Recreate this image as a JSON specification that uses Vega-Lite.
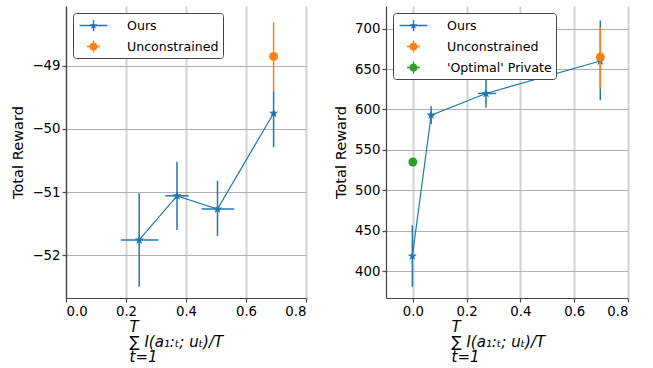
{
  "$schema": "https://vega.github.io/schema/vega-lite/v6.json",
  "padding": {"left": 10, "top": 6, "right": 5, "bottom": 0},
  "background": "white",
  "config": {
    "view": {"stroke": null},
    "font": "DejaVu Sans",
    "axis": {"labelFont": "DejaVu Sans", "titleFont": "DejaVu Sans", "labelFontSize": 13.3, "titleFontSize": 14.6, "titleFontWeight": "normal", "labelColor": "#000", "titleColor": "#000", "domainColor": "#444", "domainWidth": 1.2, "tickColor": "#444", "tickSize": 4, "tickWidth": 1.2, "labelPadding": 2, "labelOverlap": false},
    "axisX": {"gridColor": "#d3d3d3", "gridWidth": 2, "titleLineHeight": 15, "titlePadding": 2, "titleFontStyle": "italic", "titleFontSize": 15, "titleAlign": "left", "titleX": 63},
    "axisY": {"gridColor": "#b0b0b0", "gridWidth": 1, "titlePadding": 6},
    "legend": {"orient": "top-left", "offset": 7, "padding": 4, "strokeColor": "#444", "fillColor": "white", "cornerRadius": 3, "labelFont": "DejaVu Sans", "labelFontSize": 12.6, "labelColor": "#000", "symbolSize": 225, "rowPadding": 5, "labelOffset": 25, "symbolOffset": 8}
  },
  "datasets": {
    "leftdata": [
      {"series": "Ours", "x": 0.244, "y": -51.76, "xlo": 0.183, "xhi": 0.308, "ylo": -52.5, "yhi": -51.02},
      {"series": "Ours", "x": 0.37, "y": -51.06, "xlo": 0.331, "xhi": 0.409, "ylo": -51.6, "yhi": -50.52},
      {"series": "Ours", "x": 0.505, "y": -51.27, "xlo": 0.452, "xhi": 0.561, "ylo": -51.7, "yhi": -50.82},
      {"series": "Ours", "x": 0.692, "y": -49.75, "xlo": 0.689, "xhi": 0.695, "ylo": -50.29, "yhi": -49.4},
      {"series": "Unconstrained", "x": 0.692, "y": -48.85, "xlo": 0.689, "xhi": 0.695, "ylo": -49.4, "yhi": -48.31}
    ],
    "rightdata": [
      {"series": "Ours", "x": -0.002, "y": 418.5, "xlo": -0.004, "xhi": 0.0, "ylo": 380.6, "yhi": 456.8},
      {"series": "Ours", "x": 0.068, "y": 593, "xlo": 0.058, "xhi": 0.078, "ylo": 582, "yhi": 604},
      {"series": "Ours", "x": 0.272, "y": 619.8, "xlo": 0.242, "xhi": 0.31, "ylo": 602, "yhi": 640},
      {"series": "Ours", "x": 0.697, "y": 660, "xlo": 0.694, "xhi": 0.7, "ylo": 611.5, "yhi": 710},
      {"series": "Unconstrained", "x": 0.697, "y": 665, "xlo": 0.694, "xhi": 0.7, "ylo": 626, "yhi": 702},
      {"series": "'Optimal' Private", "x": 0.0, "y": 535, "xlo": 0.0, "xhi": 0.0, "ylo": 535, "yhi": 535}
    ]
  },
  "resolve": {"scale": {"x": "independent", "y": "independent", "color": "independent", "shape": "independent"}, "legend": {"color": "independent", "shape": "independent"}},
  "spacing": 26,
  "hconcat": [
    {
      "width": 240, "height": 292,
      "data": {"name": "leftdata"},
      "layer": [
        {
          "transform": [{"filter": "datum.series === 'Ours'"}],
          "mark": {"type": "rule", "color": "#1f77b4", "strokeWidth": 1.5},
          "encoding": {
            "x": {"field": "x", "type": "quantitative", "title": ["\u2002T", "\u2211 I(a\u2081:\u209c; u\u209c)/T", "t=1"], "scale": {"domain": [0, 0.8], "nice": false, "zero": false}, "axis": {"values": [0, 0.1, 0.2, 0.3, 0.4, 0.5, 0.6, 0.7, 0.8], "format": ".1f"}},
            "y": {"field": "ylo", "type": "quantitative", "title": "Total Reward", "scale": {"domain": [-52.68, -48.05], "nice": false, "zero": false}, "axis": {"values": [-52, -51, -50, -49], "format": "d"}},
            "y2": {"field": "yhi"}
          }
        },
        {
          "transform": [{"filter": "datum.series === 'Ours'"}],
          "mark": {"type": "rule", "color": "#1f77b4", "strokeWidth": 1.5},
          "encoding": {
            "x": {"field": "xlo", "type": "quantitative"},
            "x2": {"field": "xhi"},
            "y": {"field": "y", "type": "quantitative"}
          }
        },
        {
          "transform": [{"filter": "datum.series === 'Ours'"}],
          "mark": {"type": "line", "color": "#1f77b4", "strokeWidth": 1.2},
          "encoding": {
            "x": {"field": "x", "type": "quantitative"},
            "y": {"field": "y", "type": "quantitative"}
          }
        },
        {
          "transform": [{"filter": "datum.series === 'Ours'"}],
          "mark": {"type": "point", "filled": true, "color": "#1f77b4", "shape": "M0,-1L0.235,-0.324L0.951,-0.309L0.38,0.124L0.588,0.809L0,0.4L-0.588,0.809L-0.38,0.124L-0.951,-0.309L-0.235,-0.324Z", "size": 95, "opacity": 1},
          "encoding": {
            "x": {"field": "x", "type": "quantitative"},
            "y": {"field": "y", "type": "quantitative"}
          }
        },
        {
          "transform": [{"filter": "datum.series === 'Unconstrained'"}],
          "mark": {"type": "rule", "color": "#ff7f0e", "strokeWidth": 1.5},
          "encoding": {
            "x": {"field": "x", "type": "quantitative"},
            "y": {"field": "ylo", "type": "quantitative"},
            "y2": {"field": "yhi"}
          }
        },
        {
          "transform": [{"filter": "datum.series !== 'Ours'"}],
          "mark": {"type": "point", "filled": true, "shape": "circle", "size": 80, "opacity": 1},
          "encoding": {
            "x": {"field": "x", "type": "quantitative"},
            "y": {"field": "y", "type": "quantitative"},
            "color": {"condition": {"test": "datum.series === 'Unconstrained'", "value": "#ff7f0e"}, "value": "#2ca02c"}
          }
        },
        {
          "transform": [{"filter": "datum.series === 'none'"}],
          "mark": {"type": "point", "filled": true, "opacity": 1},
          "encoding": {
            "x": {"field": "x", "type": "quantitative"},
            "y": {"field": "y", "type": "quantitative"},
            "color": {"field": "series", "type": "nominal", "scale": {"domain": ["Ours", "Unconstrained"], "range": ["#1f77b4", "#ff7f0e"]}, "legend": {"title": null}},
            "shape": {"field": "series", "type": "nominal", "scale": {"domain": ["Ours", "Unconstrained"], "range": ["M0,-0.55L0.129,-0.178L0.523,-0.17L0.209,0.068L0.323,0.445L0,0.22L-0.323,0.445L-0.209,0.068L-0.523,-0.17L-0.129,-0.178Z M-1.85,-0.09L1.85,-0.09L1.85,0.09L-1.85,0.09Z M-0.09,-0.75L0.09,-0.75L0.09,0.75L-0.09,0.75Z", "M0.55,0A0.55,0.55 0 1,1 -0.55,0A0.55,0.55 0 1,1 0.55,0Z M-0.87,-0.09L0.87,-0.09L0.87,0.09L-0.87,0.09Z M-0.09,-0.8L0.09,-0.8L0.09,0.8L-0.09,0.8Z"]}, "legend": {"title": null}}
          }
        }
      ]
    },
    {
      "width": 242, "height": 292,
      "data": {"name": "rightdata"},
      "layer": [
        {
          "transform": [{"filter": "datum.series === 'Ours'"}],
          "mark": {"type": "rule", "color": "#1f77b4", "strokeWidth": 1.5},
          "encoding": {
            "x": {"field": "x", "type": "quantitative", "title": ["\u2002T", "\u2211 I(a\u2081:\u209c; u\u209c)/T", "t=1"], "scale": {"domain": [-0.1, 0.8], "nice": false, "zero": false}, "axis": {"values": [0, 0.1, 0.2, 0.3, 0.4, 0.5, 0.6, 0.7, 0.8], "format": ".1f", "titleX": 65}},
            "y": {"field": "ylo", "type": "quantitative", "title": "Total Reward", "scale": {"domain": [366.7, 728], "nice": false, "zero": false}, "axis": {"values": [400, 450, 500, 550, 600, 650, 700], "format": "d"}},
            "y2": {"field": "yhi"}
          }
        },
        {
          "transform": [{"filter": "datum.series === 'Ours'"}],
          "mark": {"type": "rule", "color": "#1f77b4", "strokeWidth": 1.5},
          "encoding": {
            "x": {"field": "xlo", "type": "quantitative"},
            "x2": {"field": "xhi"},
            "y": {"field": "y", "type": "quantitative"}
          }
        },
        {
          "transform": [{"filter": "datum.series === 'Ours'"}],
          "mark": {"type": "line", "color": "#1f77b4", "strokeWidth": 1.2},
          "encoding": {
            "x": {"field": "x", "type": "quantitative"},
            "y": {"field": "y", "type": "quantitative"}
          }
        },
        {
          "transform": [{"filter": "datum.series === 'Ours'"}],
          "mark": {"type": "point", "filled": true, "color": "#1f77b4", "shape": "M0,-1L0.235,-0.324L0.951,-0.309L0.38,0.124L0.588,0.809L0,0.4L-0.588,0.809L-0.38,0.124L-0.951,-0.309L-0.235,-0.324Z", "size": 95, "opacity": 1},
          "encoding": {
            "x": {"field": "x", "type": "quantitative"},
            "y": {"field": "y", "type": "quantitative"}
          }
        },
        {
          "transform": [{"filter": "datum.series === 'Unconstrained'"}],
          "mark": {"type": "rule", "color": "#ff7f0e", "strokeWidth": 1.5},
          "encoding": {
            "x": {"field": "x", "type": "quantitative"},
            "y": {"field": "ylo", "type": "quantitative"},
            "y2": {"field": "yhi"}
          }
        },
        {
          "transform": [{"filter": "datum.series !== 'Ours'"}],
          "mark": {"type": "point", "filled": true, "shape": "circle", "size": 80, "opacity": 1},
          "encoding": {
            "x": {"field": "x", "type": "quantitative"},
            "y": {"field": "y", "type": "quantitative"},
            "color": {"condition": {"test": "datum.series === 'Unconstrained'", "value": "#ff7f0e"}, "value": "#2ca02c"}
          }
        },
        {
          "transform": [{"filter": "datum.series === 'none'"}],
          "mark": {"type": "point", "filled": true, "opacity": 1},
          "encoding": {
            "x": {"field": "x", "type": "quantitative"},
            "y": {"field": "y", "type": "quantitative"},
            "color": {"field": "series", "type": "nominal", "scale": {"domain": ["Ours", "Unconstrained", "'Optimal' Private"], "range": ["#1f77b4", "#ff7f0e", "#2ca02c"]}, "legend": {"title": null}},
            "shape": {"field": "series", "type": "nominal", "scale": {"domain": ["Ours", "Unconstrained", "'Optimal' Private"], "range": ["M0,-0.55L0.129,-0.178L0.523,-0.17L0.209,0.068L0.323,0.445L0,0.22L-0.323,0.445L-0.209,0.068L-0.523,-0.17L-0.129,-0.178Z M-1.85,-0.09L1.85,-0.09L1.85,0.09L-1.85,0.09Z M-0.09,-0.75L0.09,-0.75L0.09,0.75L-0.09,0.75Z", "M0.55,0A0.55,0.55 0 1,1 -0.55,0A0.55,0.55 0 1,1 0.55,0Z M-0.87,-0.09L0.87,-0.09L0.87,0.09L-0.87,0.09Z M-0.09,-0.8L0.09,-0.8L0.09,0.8L-0.09,0.8Z", "M0.55,0A0.55,0.55 0 1,1 -0.55,0A0.55,0.55 0 1,1 0.55,0Z M-0.87,-0.09L0.87,-0.09L0.87,0.09L-0.87,0.09Z M-0.09,-0.8L0.09,-0.8L0.09,0.8L-0.09,0.8Z"]}, "legend": {"title": null}}
          }
        }
      ]
    }
  ]
}
